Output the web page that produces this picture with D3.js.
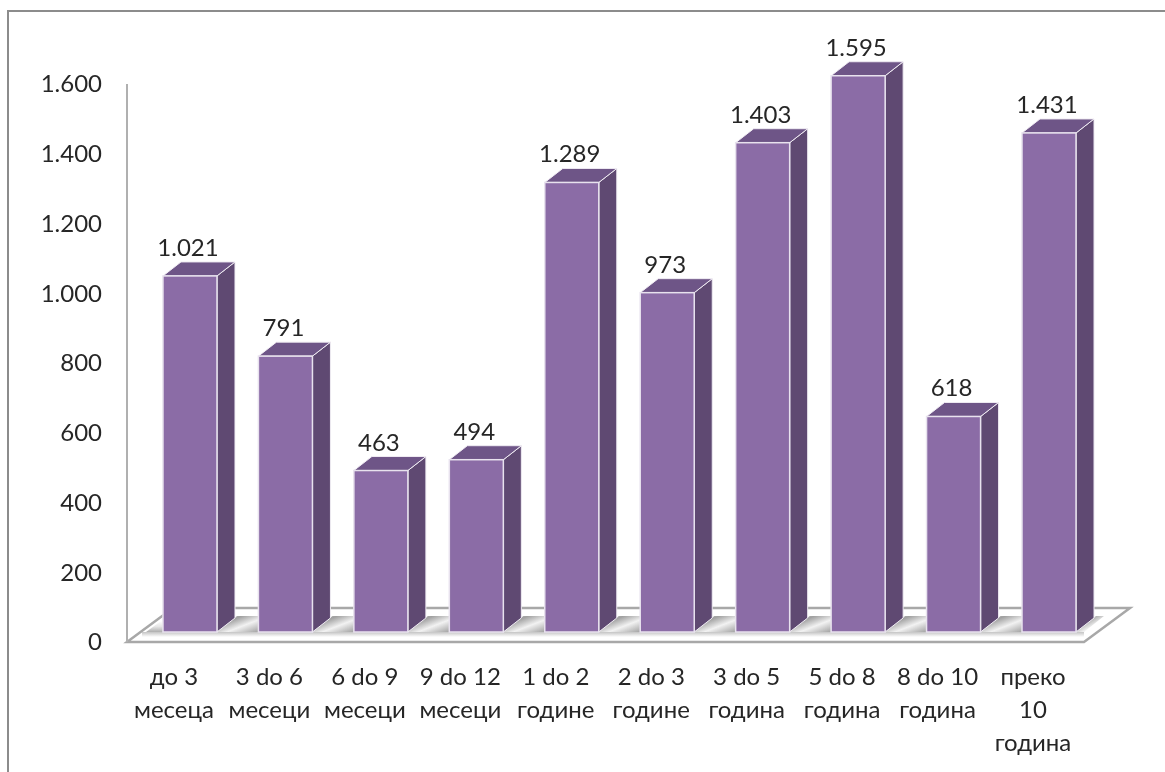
<!DOCTYPE html>
<html>
<head>
<meta charset="utf-8">
<script src="https://cdn.jsdelivr.net/npm/d3@7"></script>
<style>
  html, body { margin: 0; background: #fff; }
  text { font-family: Lato, sans-serif; fill: #262626; }
</style>
</head>
<body>
<svg id="chart" width="1165" height="772"></svg>
<script>
const categories = ['до 3|месеца', '3 do 6|месеци', '6 do 9|месеци', '9 do 12|месеци', '1 do 2|године',
  '2 do 3|године', '3 do 5|година', '5 do 8|година', '8 do 10|година', 'преко|10|година'];
const values = [1021, 791, 463, 494, 1289, 973, 1403, 1595, 618, 1431];
const valueLabels = ['1.021', '791', '463', '494', '1.289', '973', '1.403', '1.595', '618', '1.431'];
const tickValues = [0, 200, 400, 600, 800, 1000, 1200, 1400, 1600];
const tickLabels = ['0', '200', '400', '600', '800', '1.000', '1.200', '1.400', '1.600'];

const svg = d3.select('#chart');
const fontSize = 24;
const depthX = 18, depthY = 14;   // bar depth
const floorX = 46, floorY = 34;   // floor depth
const y0 = 642, lift = 10;        // bars stand a bit behind the floor front

const y = d3.scaleLinear().domain([0, 1600]).range([y0, 84]);
const x = d3.scaleBand().domain(categories).range([126.7, 1112.3]).paddingInner(0.434).paddingOuter(0.38);
const barY = v => y(v) - lift;
const base = y(0) - lift;
const floorRight = 1084;

const defs = svg.append('defs');
const soft = defs.append('filter').attr('id', 'soft')
  .attr('filterUnits', 'userSpaceOnUse')
  .attr('x', 0).attr('y', 0).attr('width', 1165).attr('height', 772);
soft.append('feGaussianBlur').attr('stdDeviation', 0.45);

const shade = defs.append('linearGradient').attr('id', 'floorShade')
  .attr('x1', 0).attr('y1', 0).attr('x2', 1).attr('y2', 1);
[[0, '#d4d4d4'], [0.3, '#a0a0a0'], [0.62, '#f2f2f2'], [1, '#a2a2a2']].forEach(s =>
  shade.append('stop').attr('offset', s[0]).attr('stop-color', s[1]));

const under = defs.append('linearGradient').attr('id', 'underShade')
  .attr('x1', 0).attr('y1', 0).attr('x2', 0).attr('y2', 1);
[[0, '#c4c4c4'], [1, '#ffffff']].forEach(s =>
  under.append('stop').attr('offset', s[0]).attr('stop-color', s[1]));

const leftFade = defs.append('linearGradient').attr('id', 'leftShade')
  .attr('x1', 0).attr('y1', 0).attr('x2', 0).attr('y2', 1);
[[0, '#ffffff'], [0.5, '#e6e6e6'], [1, '#aeaeae']].forEach(s =>
  leftFade.append('stop').attr('offset', s[0]).attr('stop-color', s[1]));

const root = svg.append('g').attr('filter', 'url(#soft)');

// picture frame
root.append('path')
  .attr('d', 'M8,772V11H1165')
  .attr('fill', 'none').attr('stroke', '#8c8c8c').attr('stroke-width', 2);

// floor
root.append('path')
  .attr('d', `M127,${y0}L${127 + floorX},${y0 - floorY}H${floorRight + floorX}L${floorRight},${y0}Z`)
  .attr('fill', '#fff').attr('stroke', '#a8a8a8').attr('stroke-width', 2.5);

// strip under the bars
root.append('rect')
  .attr('x', 142).attr('y', base).attr('width', floorRight - 142).attr('height', 5)
  .attr('fill', 'url(#underShade)');

// shaded floor between the bars
const gaps = d3.pairs(categories);
root.selectAll('.gap').data(gaps).join('path')
  .attr('class', 'gap')
  .attr('d', ([a, b]) => {
    const r = x(a) + x.bandwidth(), n = x(b);
    return `M${r},${base}L${r + depthX + 2},${base - depthY - 2}H${n}V${base}Z`;
  })
  .attr('fill', 'url(#floorShade)');

// shaded floor left and right of the row
root.append('path')
  .attr('d', `M146,${base}L161,${base - 11}H${x(categories[0])}V${base}Z`)
  .attr('fill', 'url(#leftShade)');
const lastR = x(categories[9]) + x.bandwidth();
root.append('path')
  .attr('d', `M${lastR},${base}L${lastR + depthX + 2},${base - depthY - 2}H${lastR + 28}L${lastR + 8},${base}Z`)
  .attr('fill', 'url(#floorShade)');

// y axis wall line
root.append('line')
  .attr('x1', 127).attr('x2', 127).attr('y1', 84).attr('y2', y0)
  .attr('stroke', '#b0b0b0').attr('stroke-width', 2);

// tick labels
root.selectAll('.tick-label').data(tickValues).join('text')
  .attr('class', 'tick-label')
  .attr('x', 102)
  .attr('y', d => y(d))
  .attr('dy', '0.35em')
  .attr('text-anchor', 'end')
  .attr('font-size', fontSize)
  .text((d, i) => tickLabels[i]);

// bars
const bars = root.selectAll('.bar').data(categories.map((c, i) => ({ c, v: values[i], label: valueLabels[i] })))
  .join('g').attr('class', 'bar');

bars.append('path')
  .attr('d', d => {
    const l = x(d.c) + x.bandwidth(), t = barY(d.v);
    return `M${l},${t}L${l + depthX},${t - depthY}V${base - depthY}L${l},${base}Z`;
  })
  .attr('fill', '#5e4a72').attr('stroke', '#f0ecf3').attr('stroke-width', 1);

bars.append('path')
  .attr('d', d => {
    const l = x(d.c), r = l + x.bandwidth(), t = barY(d.v);
    return `M${l},${t}L${l + depthX},${t - depthY}H${r + depthX}L${r},${t}Z`;
  })
  .attr('fill', '#6e5587').attr('stroke', '#f0ecf3').attr('stroke-width', 1);

bars.append('rect')
  .attr('x', d => x(d.c))
  .attr('y', d => barY(d.v))
  .attr('width', x.bandwidth())
  .attr('height', d => y(0) - y(d.v))
  .attr('fill', '#8b6ca6').attr('stroke', '#e8e2ee').attr('stroke-width', 1.5);

bars.append('text')
  .attr('x', d => x(d.c) + x.bandwidth() / 2 - 2)
  .attr('y', d => barY(d.v) - 20)
  .attr('text-anchor', 'middle')
  .attr('font-size', fontSize)
  .text(d => d.label);

// category labels
const catLabels = root.selectAll('.cat-label').data(categories).join('text')
  .attr('class', 'cat-label')
  .attr('text-anchor', 'middle')
  .attr('font-size', fontSize);

catLabels.selectAll('tspan').data(d => d.split('|').map(t => ({ t, c: d }))).join('tspan')
  .attr('x', d => x(d.c) + x.bandwidth() / 2 - 16)
  .attr('y', (d, i) => 685 + i * 33)
  .text(d => d.t);
</script>
</body>
</html>
